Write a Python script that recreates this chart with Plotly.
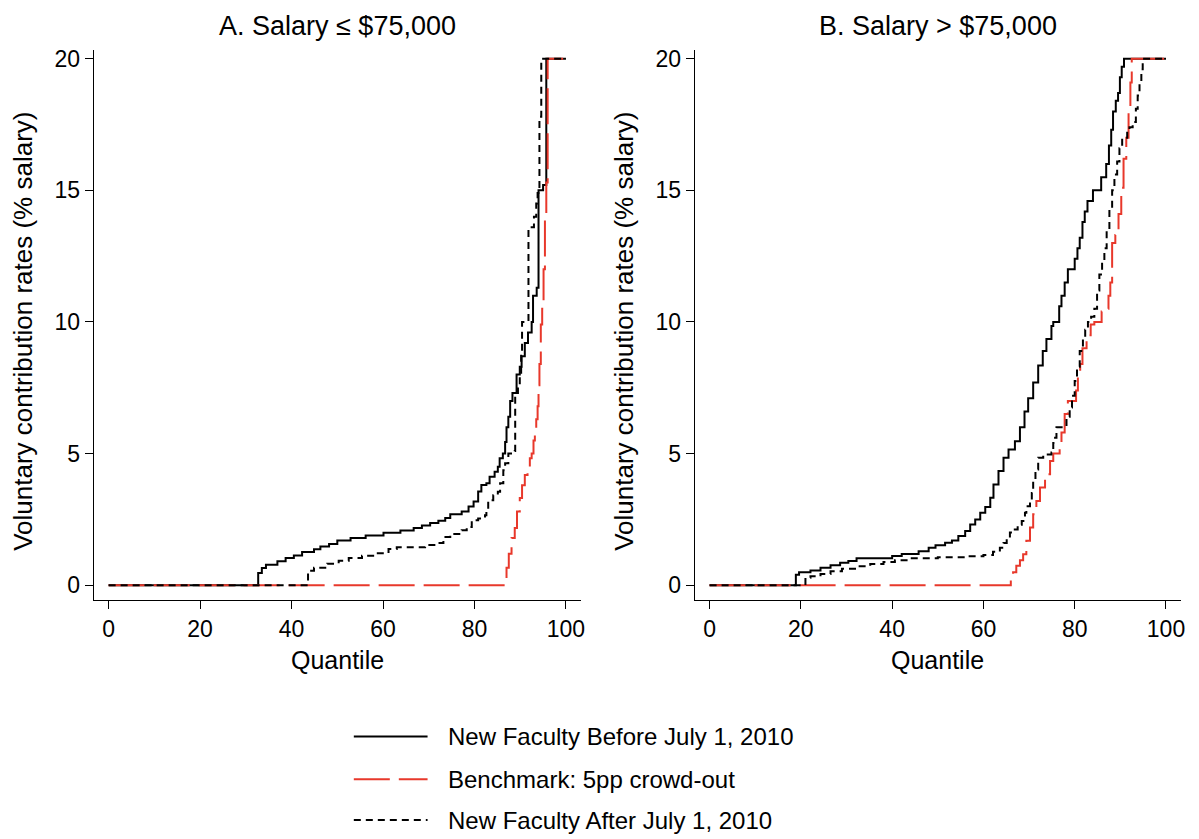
import plotly.graph_objects as go

# ---------------- data ----------------
PANEL_TITLES = ["A. Salary \u2264 $75,000", "B. Salary > $75,000"]
X_TITLE = "Quantile"
Y_TITLE = "Voluntary contribution rates (% salary)"
SERIES_NAMES = ["New Faculty Before July 1, 2010",
                "Benchmark: 5pp crowd-out",
                "New Faculty After July 1, 2010"]
X_TICKS = [0, 20, 40, 60, 80, 100]
Y_TICKS = [0, 5, 10, 15, 20]

# Panel A: salary <= $75,000
a_before_q = [0, 32.7, 33.5, 34.4, 36.9, 38.7, 40.5, 42.3, 44.9, 46.3, 48.2, 50.0, 52.9,
              56.2, 60.1, 63.8, 66.7, 68.5, 70.3, 72.1, 73.6, 74.7, 77.2, 78.7, 79.8,
              80.8, 81.5, 82.6, 83.3, 84.4, 85.1, 85.5, 86.2, 86.7, 87.0, 87.4, 87.8,
              88.3, 89.2, 89.9, 90.3, 91.0, 91.7, 92.5, 92.8, 93.6, 94.0, 95.0, 95.7, 100]
a_before_v = [0, 0.46, 0.65, 0.78, 0.91, 1.03, 1.13, 1.26, 1.37, 1.47, 1.57, 1.70, 1.79,
              1.89, 1.99, 2.08, 2.17, 2.27, 2.36, 2.45, 2.55, 2.70, 2.80, 2.99, 3.18,
              3.56, 3.81, 3.87, 4.12, 4.31, 4.50, 4.82, 5.0, 5.44, 6.0, 6.4, 7.0,
              7.3, 8.0, 8.3, 8.7, 9.2, 9.6, 10.0, 11.0, 11.3, 15.0, 15.2, 20, 20]

a_bench_q = [0, 86.5, 87.0, 87.5, 88.1, 88.8, 89.3, 89.9, 90.4, 91.0, 91.6, 92.1, 92.5,
             92.9, 93.2, 93.5, 93.8, 94.0, 94.2, 94.5, 94.8, 95.1, 95.4, 95.7, 96.0, 100]
a_bench_v = [0, 0, 0.66, 1.2, 1.79, 2.17, 2.8, 3.31, 3.8, 4.19, 4.5, 4.82, 5.0,
             5.5, 5.9, 6.3, 6.8, 7.6, 8.4, 9.9, 10.5, 12.0, 14.0, 15.3, 20, 20]

a_after_q = [0, 43.6, 44.9, 47.8, 50.3, 52.5, 55.4, 58.6, 61.2, 63.0, 69.2, 72.1, 73.2,
             74.7, 77.2, 78.3, 79.4, 80.8, 82.3, 82.6, 83.0, 84.1, 85.1, 85.6, 86.3,
             86.7, 87.4, 88.8, 88.9, 89.5, 89.9, 90.2, 90.4, 91.8, 92.5, 93.0, 93.5,
             93.8, 94.2, 94.6, 100]
a_after_v = [0, 0.55, 0.66, 0.82, 0.93, 1.03, 1.12, 1.21, 1.38, 1.44, 1.53, 1.60, 1.83,
             1.95, 2.09, 2.21, 2.47, 2.53, 2.66, 2.85, 3.23, 3.42, 3.55, 3.87, 4.37,
             4.63, 5.0, 5.1, 7.3, 7.6, 8.0, 8.9, 10.0, 13.5, 13.6, 14.0, 14.5,
             14.9, 17.8, 20, 20]

# Panel B: salary > $75,000
b_before_q = [0, 18.9, 19.6, 22.1, 24.3, 26.5, 28.6, 30.4, 32.2, 40.0, 42.1, 45.8, 48.0,
              49.5, 51.6, 53.1, 54.5, 56.0, 57.1, 58.2, 59.3, 60.4, 61.5, 62.2, 63.3,
              64.4, 65.5, 66.9, 68.0, 69.0, 69.8, 70.9, 72.0, 73.0, 73.8, 74.9, 75.3,
              76.6, 77.1, 77.8, 78.5, 80.0, 80.6, 81.1, 81.7, 82.2, 82.8, 84.0, 85.8,
              86.9, 87.5, 88.0, 88.4, 89.0, 89.5, 89.9, 90.3, 90.8, 100]
b_before_v = [0, 0.40, 0.49, 0.56, 0.66, 0.76, 0.85, 0.92, 1.02, 1.11, 1.19, 1.29, 1.42,
              1.52, 1.61, 1.70, 1.87, 2.06, 2.31, 2.50, 2.75, 2.97, 3.32, 3.83, 4.34,
              4.84, 5.16, 5.47, 6.0, 6.6, 7.1, 7.7, 8.35, 8.9, 9.35, 9.85, 10.0,
              10.6, 11.0, 11.5, 12.0, 12.4, 12.8, 13.2, 13.8, 14.2, 14.6, 15.0, 15.5,
              16.0, 16.7, 17.3, 18.0, 18.4, 18.7, 19.3, 19.7, 20, 20]

b_bench_q = [0, 65.4, 66.0, 66.5, 67.2, 68.0, 68.7, 69.4, 70.2, 70.9, 71.6, 72.4, 73.5,
             74.6, 75.3, 76.7, 77.1, 77.8, 78.5, 80.3, 80.7, 81.2, 81.7, 82.6, 83.5,
             84.3, 85.9, 86.7, 87.4, 87.8, 88.2, 88.9, 89.6, 90.2, 90.7, 91.3, 91.8,
             92.2, 92.5, 100]
b_bench_v = [0, 0, 0.3, 0.49, 0.74, 0.95, 1.18, 1.69, 2.19, 2.70, 3.2, 3.71, 4.22,
             4.72, 5.0, 5.3, 5.8, 6.5, 7.0, 7.4, 7.9, 8.4, 9.0, 9.5, 9.9,
             10.0, 10.4, 10.5, 11.0, 11.5, 13.0, 13.3, 14.1, 15.1, 16.2, 17.0, 18.0,
             19.1, 20, 20]

b_after_q = [0, 21.0, 22.1, 24.3, 26.5, 29.0, 32.2, 35.2, 38.1, 40.6, 43.9, 50.0, 56.0,
             60.0, 62.1, 63.6, 64.4, 65.1, 65.8, 66.5, 67.5, 68.4, 69.1, 69.4, 70.2,
             70.6, 70.9, 71.4, 72.0, 73.1, 74.9, 75.3, 75.7, 76.0, 78.2, 78.9, 79.4,
             80.0, 80.5, 81.1, 81.8, 82.3, 82.9, 83.6, 84.3, 84.9, 85.4, 86.0, 86.5,
             87.0, 87.6, 88.2, 88.7, 89.3, 89.8, 90.4, 91.5, 92.0, 92.7, 93.4, 93.8,
             94.2, 94.6, 94.9, 100]
b_after_v = [0, 0.28, 0.34, 0.43, 0.53, 0.63, 0.72, 0.81, 0.88, 0.95, 1.02, 1.06, 1.10,
             1.15, 1.27, 1.42, 1.6, 1.8, 2.0, 2.12, 2.3, 2.44, 2.75, 3.0, 3.1,
             3.5, 3.95, 4.4, 4.84, 4.97, 5.04, 5.4, 5.6, 6.0, 6.4, 6.75, 7.2,
             7.76, 8.3, 8.9, 9.4, 9.7, 10.0, 10.2, 10.5, 11.2, 11.8, 12.3, 12.8,
             13.5, 14.3, 15.0, 15.6, 16.1, 16.6, 17.0, 17.3, 17.4, 17.6, 18.1, 18.6,
             19.1, 19.6, 20, 20]

# ---------------- styling ----------------
W, H = 1199, 839
FONT = "Liberation Sans, Arial, Helvetica, sans-serif"
RED = "#e8382b"
STYLES = [dict(color="black", width=2, dash="solid"),
          dict(color=RED, width=2, dash="36px,9px"),
          dict(color="black", width=2, dash="7px,5px")]


def px(x):
    return x / W


def py(y):
    return 1 - y / H


fig = go.Figure()
panels = [
    ("x", "y", [(a_before_q, a_before_v), (a_bench_q, a_bench_v), (a_after_q, a_after_v)]),
    ("x2", "y2", [(b_before_q, b_before_v), (b_bench_q, b_bench_v), (b_after_q, b_after_v)]),
]
for xa, ya, series in panels:
    for (q, v), name, st in zip(series, SERIES_NAMES, STYLES):
        fig.add_trace(go.Scatter(x=q, y=v, mode="lines", name=name, xaxis=xa, yaxis=ya,
                                 line=dict(shape="hv", **st), showlegend=False,
                                 hoverinfo="skip"))

ax_common = dict(showline=True, linecolor="black", linewidth=1.2, ticks="outside",
                 ticklen=8, tickwidth=1.2, tickcolor="black", showgrid=False,
                 zeroline=False, tickfont=dict(size=23, color="black", family=FONT),
                 fixedrange=True)
X_RANGE = [-3.27, 103.3]
Y_RANGE = [-0.567, 20.34]
Y_DOM = [py(599), py(46)]

fig.update_layout(
    width=W, height=H, margin=dict(l=0, r=0, t=0, b=0),
    paper_bgcolor="white", plot_bgcolor="white",
    font=dict(family=FONT, color="black"),
    xaxis=dict(domain=[px(94), px(583)], range=X_RANGE, tickvals=X_TICKS, anchor="y", **ax_common),
    yaxis=dict(domain=Y_DOM, range=Y_RANGE, tickvals=Y_TICKS, anchor="x", **ax_common),
    xaxis2=dict(domain=[px(697), px(1185)], range=X_RANGE, tickvals=X_TICKS, anchor="y2", **ax_common),
    yaxis2=dict(domain=Y_DOM, range=Y_RANGE, tickvals=Y_TICKS, anchor="x2", **ax_common),
    showlegend=False,
)

ann = []
centers = [(94 + 583) / 2, (697 + 1185) / 2]
ytitle_x = [23, 626]
for title, cx, yx in zip(PANEL_TITLES, centers, ytitle_x):
    ann.append(dict(text=title, x=px(cx), y=py(22), xref="paper", yref="paper",
                    xanchor="center", yanchor="middle", showarrow=False,
                    font=dict(size=27, family=FONT, color="black")))
    ann.append(dict(text=X_TITLE, x=px(cx), y=py(659), xref="paper", yref="paper",
                    xanchor="center", yanchor="middle", showarrow=False,
                    font=dict(size=25, family=FONT, color="black")))
    ann.append(dict(text=Y_TITLE, x=px(yx), y=py(328.5), xref="paper", yref="paper",
                    xanchor="center", yanchor="middle", showarrow=False, textangle=-90,
                    font=dict(size=26, family=FONT, color="black")))

# legend (drawn manually to match the original layout)
leg_rows = [736, 779, 820]
shapes = []
for row, name, st in zip(leg_rows, SERIES_NAMES, STYLES):
    shapes.append(dict(type="line", xref="paper", yref="paper", x0=px(355), x1=px(429),
                       y0=py(row), y1=py(row), line=st))
    ann.append(dict(text=name, x=px(447), y=py(row), xref="paper", yref="paper",
                    xanchor="left", yanchor="middle", showarrow=False,
                    font=dict(size=24, family=FONT, color="black")))

fig.update_layout(annotations=ann, shapes=shapes)

fig.write_html("out.html", config={"displayModeBar": False},
               post_script="document.body.style.margin='0px';")
